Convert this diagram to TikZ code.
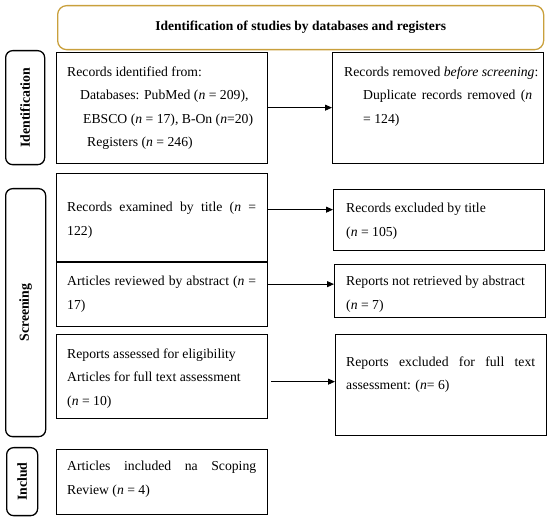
\documentclass[tikz,border=0pt]{standalone}
\usepackage{fontspec}
\setmainfont{Liberation Serif}
\usetikzlibrary{arrows.meta}
\definecolor{gold}{RGB}{201,160,60}
\newcommand{\jl}[2]{\makebox[#1][s]{#2}}
\newcommand{\nn}{\textit{n}}
\begin{document}
\begin{tikzpicture}[x=1pt,y=-1pt,
  box/.style={draw=black,line width=1.3pt,minimum width=211pt,anchor=north west,inner sep=0pt},
  stagebox/.style={draw=black,line width=1.3pt,rounded corners=7pt,anchor=north west,inner sep=0pt},
  stagetext/.style={rotate=90,font=\fontsize{13.8}{15}\selectfont\bfseries},
  txt/.style={anchor=west,align=left,inner sep=0pt,font=\fontsize{13.7}{23.5}\selectfont},
  arr/.style={-{Triangle[length=7pt,width=6pt]},line width=0.8pt}]
\useasboundingbox (0,0) rectangle (550,521);
% title
\node[draw=gold,line width=1.3pt,rounded corners=9pt,minimum width=486pt,minimum height=44pt,anchor=north west,inner sep=0pt,font=\fontsize{13.5}{15}\selectfont\bfseries] (title) at (57,5) {Identification of studies by databases and registers};
% stage labels
\node[stagebox,minimum width=39pt,minimum height=114pt] (sid) at (5,50) {};
\node[stagetext] (sidt) at (sid.center) {Identification};
\node[stagebox,minimum width=40pt,minimum height=248pt] (ssc) at (5,188) {};
\node[stagetext] (ssct) at (ssc.center) {Screening};
\node[stagebox,minimum width=31pt,minimum height=68pt] (sin) at (6,447) {};
\node[stagetext] (sint) at (sin.center) {Includ};
% left boxes
\node[box,minimum height=111pt] (b1) at (56,52) {};
\node[box,minimum height=88pt] (b2) at (56,173) {};
\node[box,minimum height=64pt] (b3) at (56,262) {};
\node[box,minimum height=84pt] (b4) at (56,334) {};
\node[box,minimum height=65pt] (b5) at (56,449) {};
% right boxes
\node[box,minimum height=111pt] (r1) at (332,52) {};
\node[box,minimum height=61pt] (r2) at (333,189) {};
\node[box,minimum height=53pt] (r3) at (334,264) {};
\node[box,minimum height=101pt] (r4) at (335,334) {};
% texts
\node[txt] (b1t) at (67,108) {Records identified from:\\
  \hspace*{13pt}Databases: PubMed (\nn{} = 209),\\
  \hspace*{16pt}EBSCO (\nn{} = 17), B-On (\nn{}=20)\\
  \hspace*{20pt}Registers (\nn{} = 246)};
\node[txt] (r1t) at (344,96.5) {Records removed \textit{before screening}:\\
  \hspace*{19pt}\jl{169pt}{Duplicate records removed (\nn}\\
  \hspace*{19pt}= 124)};
\node[txt] (b2t) at (67,220) {\jl{189pt}{Records examined by title (\nn{} =}\\122)};
\node[txt] (r2t) at (346,221) {Records excluded by title\\(\nn{} = 105)};
\node[txt] (b3t) at (67,294) {\jl{189pt}{Articles reviewed by abstract (\nn{} =}\\17)};
\node[txt] (r3t) at (346,294) {Reports not retrieved by abstract\\(\nn{} = 7)};
\node[txt] (b4t) at (67,378.5) {Reports assessed for eligibility\\Articles for full text assessment\\(\nn{} = 10)};
\node[txt] (r4t) at (346,374.5) {\jl{189pt}{Reports excluded for full text}\\assessment: (\nn{}= 6)};
\node[txt] (b5t) at (67,479) {\jl{189pt}{Articles included na Scoping}\\Review (\nn{} = 4)};
% arrows
\draw[arr] ([yshift=0.5pt]b1.east) -- ([yshift=0.5pt]b1.east -| r1.west);
\draw[arr] ([yshift=8pt]b2.east) -- ([yshift=8pt]b2.east -| r2.west);
\draw[arr] ([yshift=10.5pt]b3.east) -- ([yshift=10.5pt]b3.east -| r3.west);
\draw[arr,shorten <=3pt] ([yshift=-5pt]b4.east) -- ([yshift=-5pt]b4.east -| r4.west);
\end{tikzpicture}
\end{document}
